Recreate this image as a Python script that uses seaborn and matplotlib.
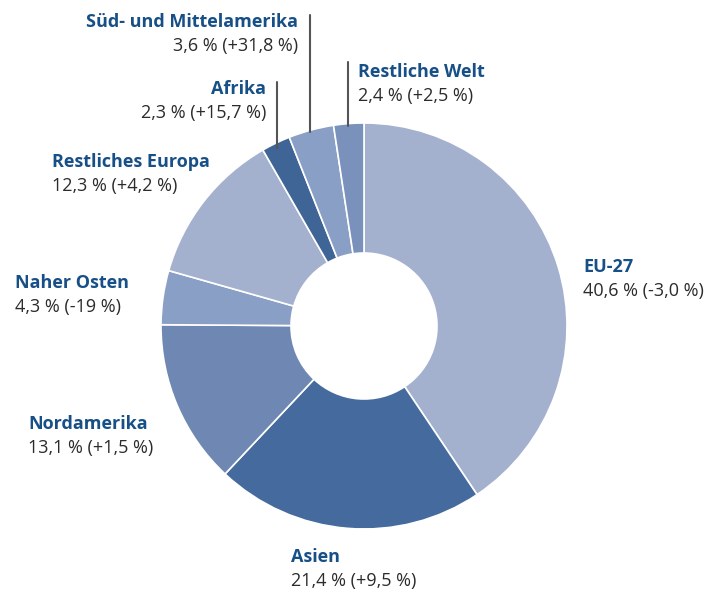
import matplotlib
matplotlib.use("Agg")
import matplotlib.pyplot as plt
import seaborn as sns

# Anteile der Regionen (Prozent) und Veränderung
regions = ['EU-27', 'Asien', 'Nordamerika', 'Naher Osten', 'Restliches Europa',
           'Afrika', 'Süd- und Mittelamerika', 'Restliche Welt']
shares = [40.6, 21.4, 13.1, 4.3, 12.3, 2.3, 3.6, 2.4]
changes = ['-3,0 %', '+9,5 %', '+1,5 %', '-19 %', '+4,2 %', '+15,7 %', '+31,8 %', '+2,5 %']
share_txt = ['40,6', '21,4', '13,1', '4,3', '12,3', '2,3', '3,6', '2,4']
colors = ['#a3b1cf', '#456b9e', '#6f88b3', '#8a9fc6', '#a3b1cf', '#3f6496', '#8a9fc6', '#7a91bc']

sns.set_theme(style="white")
plt.rcParams['font.family'] = ['Open Sans', 'DejaVu Sans']

W, H = 722, 597
fig = plt.figure(figsize=(W / 100, H / 100), dpi=100)
ax = fig.add_axes([0, 0, 1, 1])

cx, cy, r = 364, H - 326, 203
ax.pie(shares, colors=colors, startangle=90, counterclock=False,
       center=(cx, cy), radius=r, frame=True,
       wedgeprops=dict(width=r - 73, edgecolor='white', linewidth=1.2))
ax.set_xlim(0, W)
ax.set_ylim(0, H)
ax.set_aspect('equal')
ax.axis('off')

# label positions in pixels from top: (x, y_title, align)
label_pos = {
    'EU-27': (583, 267, 'left'),
    'Asien': (291, 557, 'left'),
    'Nordamerika': (28, 424, 'left'),
    'Naher Osten': (15, 283, 'left'),
    'Restliches Europa': (52, 162, 'left'),
    'Afrika': (266, 89, 'right'),
    'Süd- und Mittelamerika': (298, 22, 'right'),
    'Restliche Welt': (358, 72, 'left'),
}
title_col = '#174f87'
val_col = '#2b2b2b'
for name, s, c in zip(regions, share_txt, changes):
    x, y, ha = label_pos[name]
    ax.text(x, H - y, name, ha=ha, va='center', fontsize=13,
            fontweight='bold', color=title_col)
    ax.text(x, H - y - 24, f'{s} % ({c})', ha=ha, va='center', fontsize=13,
            color=val_col)

# leader lines
for x, y0, y1 in [(277, 82, 148), (310, 15, 132), (348, 62, 126)]:
    ax.plot([x, x], [H - y0, H - y1], color='#555555', lw=1.5)

fig.savefig('out.png', dpi=100)
